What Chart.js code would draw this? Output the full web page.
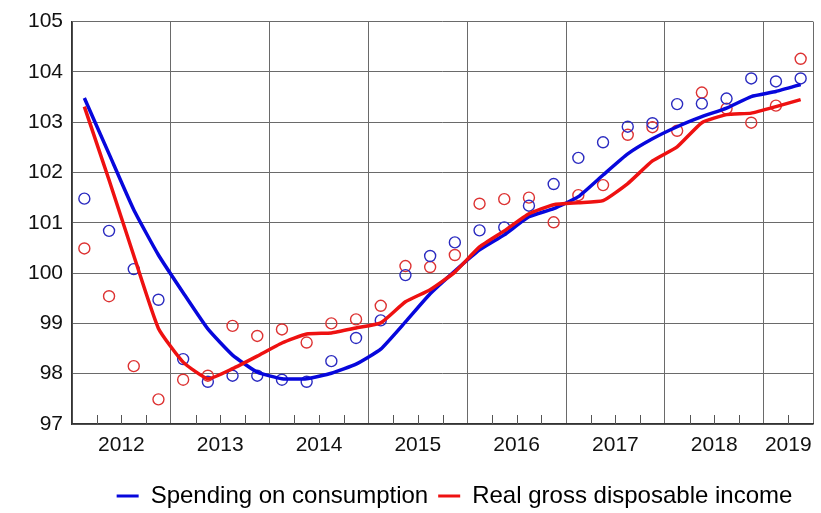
<!DOCTYPE html>
<html>
<head>
<meta charset="utf-8">
<script src="https://cdn.jsdelivr.net/npm/chart.js@4.4.0/dist/chart.umd.min.js"></script>
<style>
    html, body { margin: 0; padding: 0; background: #fff; }
    #wrap { width: 821px; height: 513px; }
</style>
</head>
<body>
<div id="wrap"><canvas id="myChart" width="821" height="513"></canvas></div>
<script>
// quarterly values, 2012 Q1 .. 2019 Q2
const years = ['2012', '2013', '2014', '2015', '2016', '2017', '2018', '2019'];

const spendingTrend = [103.48, 102.37, 101.26, 100.36, 99.61, 98.89, 98.37, 98.03, 97.90, 97.90,
    98.01, 98.19, 98.49, 99.03, 99.59, 100.04, 100.46, 100.76, 101.12, 101.28,
    101.52, 101.95, 102.37, 102.67, 102.91, 103.11, 103.28, 103.51, 103.61, 103.75];

const incomeTrend = [103.31, 101.85, 100.35, 98.90, 98.23, 97.90, 98.10, 98.35, 98.61, 98.79,
    98.81, 98.91, 99.01, 99.43, 99.67, 100.02, 100.52, 100.84, 101.18, 101.36,
    101.40, 101.44, 101.78, 102.23, 102.51, 102.99, 103.15, 103.18, 103.31, 103.45];

const spendingQuarterly = [101.48, 100.84, 100.08, 99.47, 98.29, 97.84, 97.96, 97.96, 97.88, 97.84,
    98.25, 98.71, 99.06, 99.96, 100.34, 100.61, 100.85, 100.91, 101.34, 101.77,
    102.29, 102.60, 102.91, 102.98, 103.36, 103.37, 103.47, 103.87, 103.81, 103.87];

const incomeQuarterly = [100.49, 99.54, 98.15, 97.49, 97.88, 97.96, 98.95, 98.75, 98.88, 98.62,
    99.00, 99.08, 99.35, 100.14, 100.12, 100.36, 101.38, 101.47, 101.50, 101.01,
    101.55, 101.75, 102.75, 102.90, 102.83, 103.59, 103.27, 102.99, 103.33, 104.26];

const seriesNames = ['Spending on consumption', 'Real gross disposable income'];

const blue = '#0707dc';
const red = '#ee1111';

function toPoints(arr) {
    return arr.map((v, i) => ({ x: i, y: v }));
}

const nQ = spendingTrend.length;
const lastEdge = nQ - 0.5;

// short tick marks on the inside of the bottom axis, one per quarter
const quarterTicks = {
    id: 'quarterTicks',
    afterDraw(chart) {
        const ctx = chart.ctx;
        const xs = chart.scales.x;
        const bottom = chart.chartArea.bottom;
        ctx.save();
        ctx.strokeStyle = '#555';
        ctx.lineWidth = 1;
        for (let i = 0; i < nQ - 1; i++) {
            if ((i + 1) % 4 === 0) continue;
            const px = Math.round(xs.getPixelForValue(i + 0.5)) + 0.5;
            ctx.beginPath();
            ctx.moveTo(px, bottom);
            ctx.lineTo(px, bottom - 9);
            ctx.stroke();
        }
        ctx.restore();
    }
};

// legend sits a bit right of the canvas centre in the original
const legendShift = {
    id: 'legendShift',
    afterLayout(chart) {
        const l = chart.legend;
        l.left += 48;
        l.right += 48;
        l.top += 5;
        l.bottom += 5;
    }
};

Chart.defaults.font.family = '"Liberation Sans", Arial, sans-serif';
Chart.defaults.color = '#111';

const ctx = document.getElementById('myChart').getContext('2d');
const myChart = new Chart(ctx, {
    type: 'line',
    data: {
        datasets: [
            {
                label: seriesNames[0],
                data: toPoints(spendingTrend),
                borderColor: blue,
                backgroundColor: blue,
                borderWidth: 3.5,
                pointRadius: 0,
                tension: 0.15,
                order: 2
            },
            {
                label: seriesNames[1],
                data: toPoints(incomeTrend),
                borderColor: red,
                backgroundColor: red,
                borderWidth: 3.5,
                pointRadius: 0,
                tension: 0.15,
                order: 1
            },
            {
                label: 'spending q',
                data: toPoints(spendingQuarterly),
                showLine: false,
                borderColor: '#2b2bc0',
                backgroundColor: 'rgba(0,0,0,0)',
                pointRadius: 5.5,
                pointBorderWidth: 1.4,
                order: 3
            },
            {
                label: 'income q',
                data: toPoints(incomeQuarterly),
                showLine: false,
                borderColor: '#dd3333',
                backgroundColor: 'rgba(0,0,0,0)',
                pointRadius: 5.5,
                pointBorderWidth: 1.4,
                order: 3
            }
        ]
    },
    options: {
        responsive: false,
        animation: false,
        layout: { padding: { top: 20, right: 8, left: 0, bottom: 0 } },
        plugins: {
            tooltip: { enabled: false },
            legend: {
                position: 'bottom',
                labels: {
                    boxWidth: 22,
                    boxHeight: 3,
                    padding: 10,
                    color: '#000',
                    font: { size: 24 },
                    generateLabels: (chart) => [0, 1].map(i => ({
                        text: seriesNames[i],
                        fillStyle: chart.data.datasets[i].borderColor,
                        strokeStyle: chart.data.datasets[i].borderColor,
                        lineWidth: 0,
                        datasetIndex: i
                    }))
                }
            }
        },
        scales: {
            x: {
                type: 'linear',
                min: -0.5,
                max: lastEdge,
                position: 'bottom',
                afterBuildTicks: (s) => {
                    const edges = years.map((y, i) => i * 4 - 0.5);
                    edges.push(lastEdge);
                    s.ticks = edges.map(v => ({ value: v }));
                },
                ticks: { display: false },
                grid: { color: '#6a6a6a', lineWidth: 1, drawTicks: false },
                border: { color: '#333', width: 1.5 },
                afterFit: (s) => { s.height = 0; }
            },
            xYear: {
                type: 'linear',
                min: -0.5,
                max: lastEdge,
                position: 'bottom',
                afterBuildTicks: (s) => {
                    s.ticks = years.map((y, i) => ({ value: Math.min(i * 4 + 1.5, (i * 4 - 0.5 + lastEdge) / 2) }));
                },
                ticks: {
                    padding: 9,
                    maxRotation: 0,
                    autoSkip: false,
                    font: { size: 21 },
                    color: '#111',
                    callback: (v, i) => years[i]
                },
                grid: { display: false, drawTicks: false },
                border: { display: false },
                afterFit: (s) => { s.height = 45; }
            },
            y: {
                min: 97,
                max: 105,
                ticks: {
                    stepSize: 1,
                    padding: 9,
                    font: { size: 21 },
                    color: '#111'
                },
                grid: { color: '#6a6a6a', lineWidth: 1, drawTicks: false },
                border: { color: '#333', width: 1.5 },
                afterFit: (s) => { s.width = 72; }
            }
        }
    },
    plugins: [quarterTicks, legendShift]
});
</script>
</body>
</html>
